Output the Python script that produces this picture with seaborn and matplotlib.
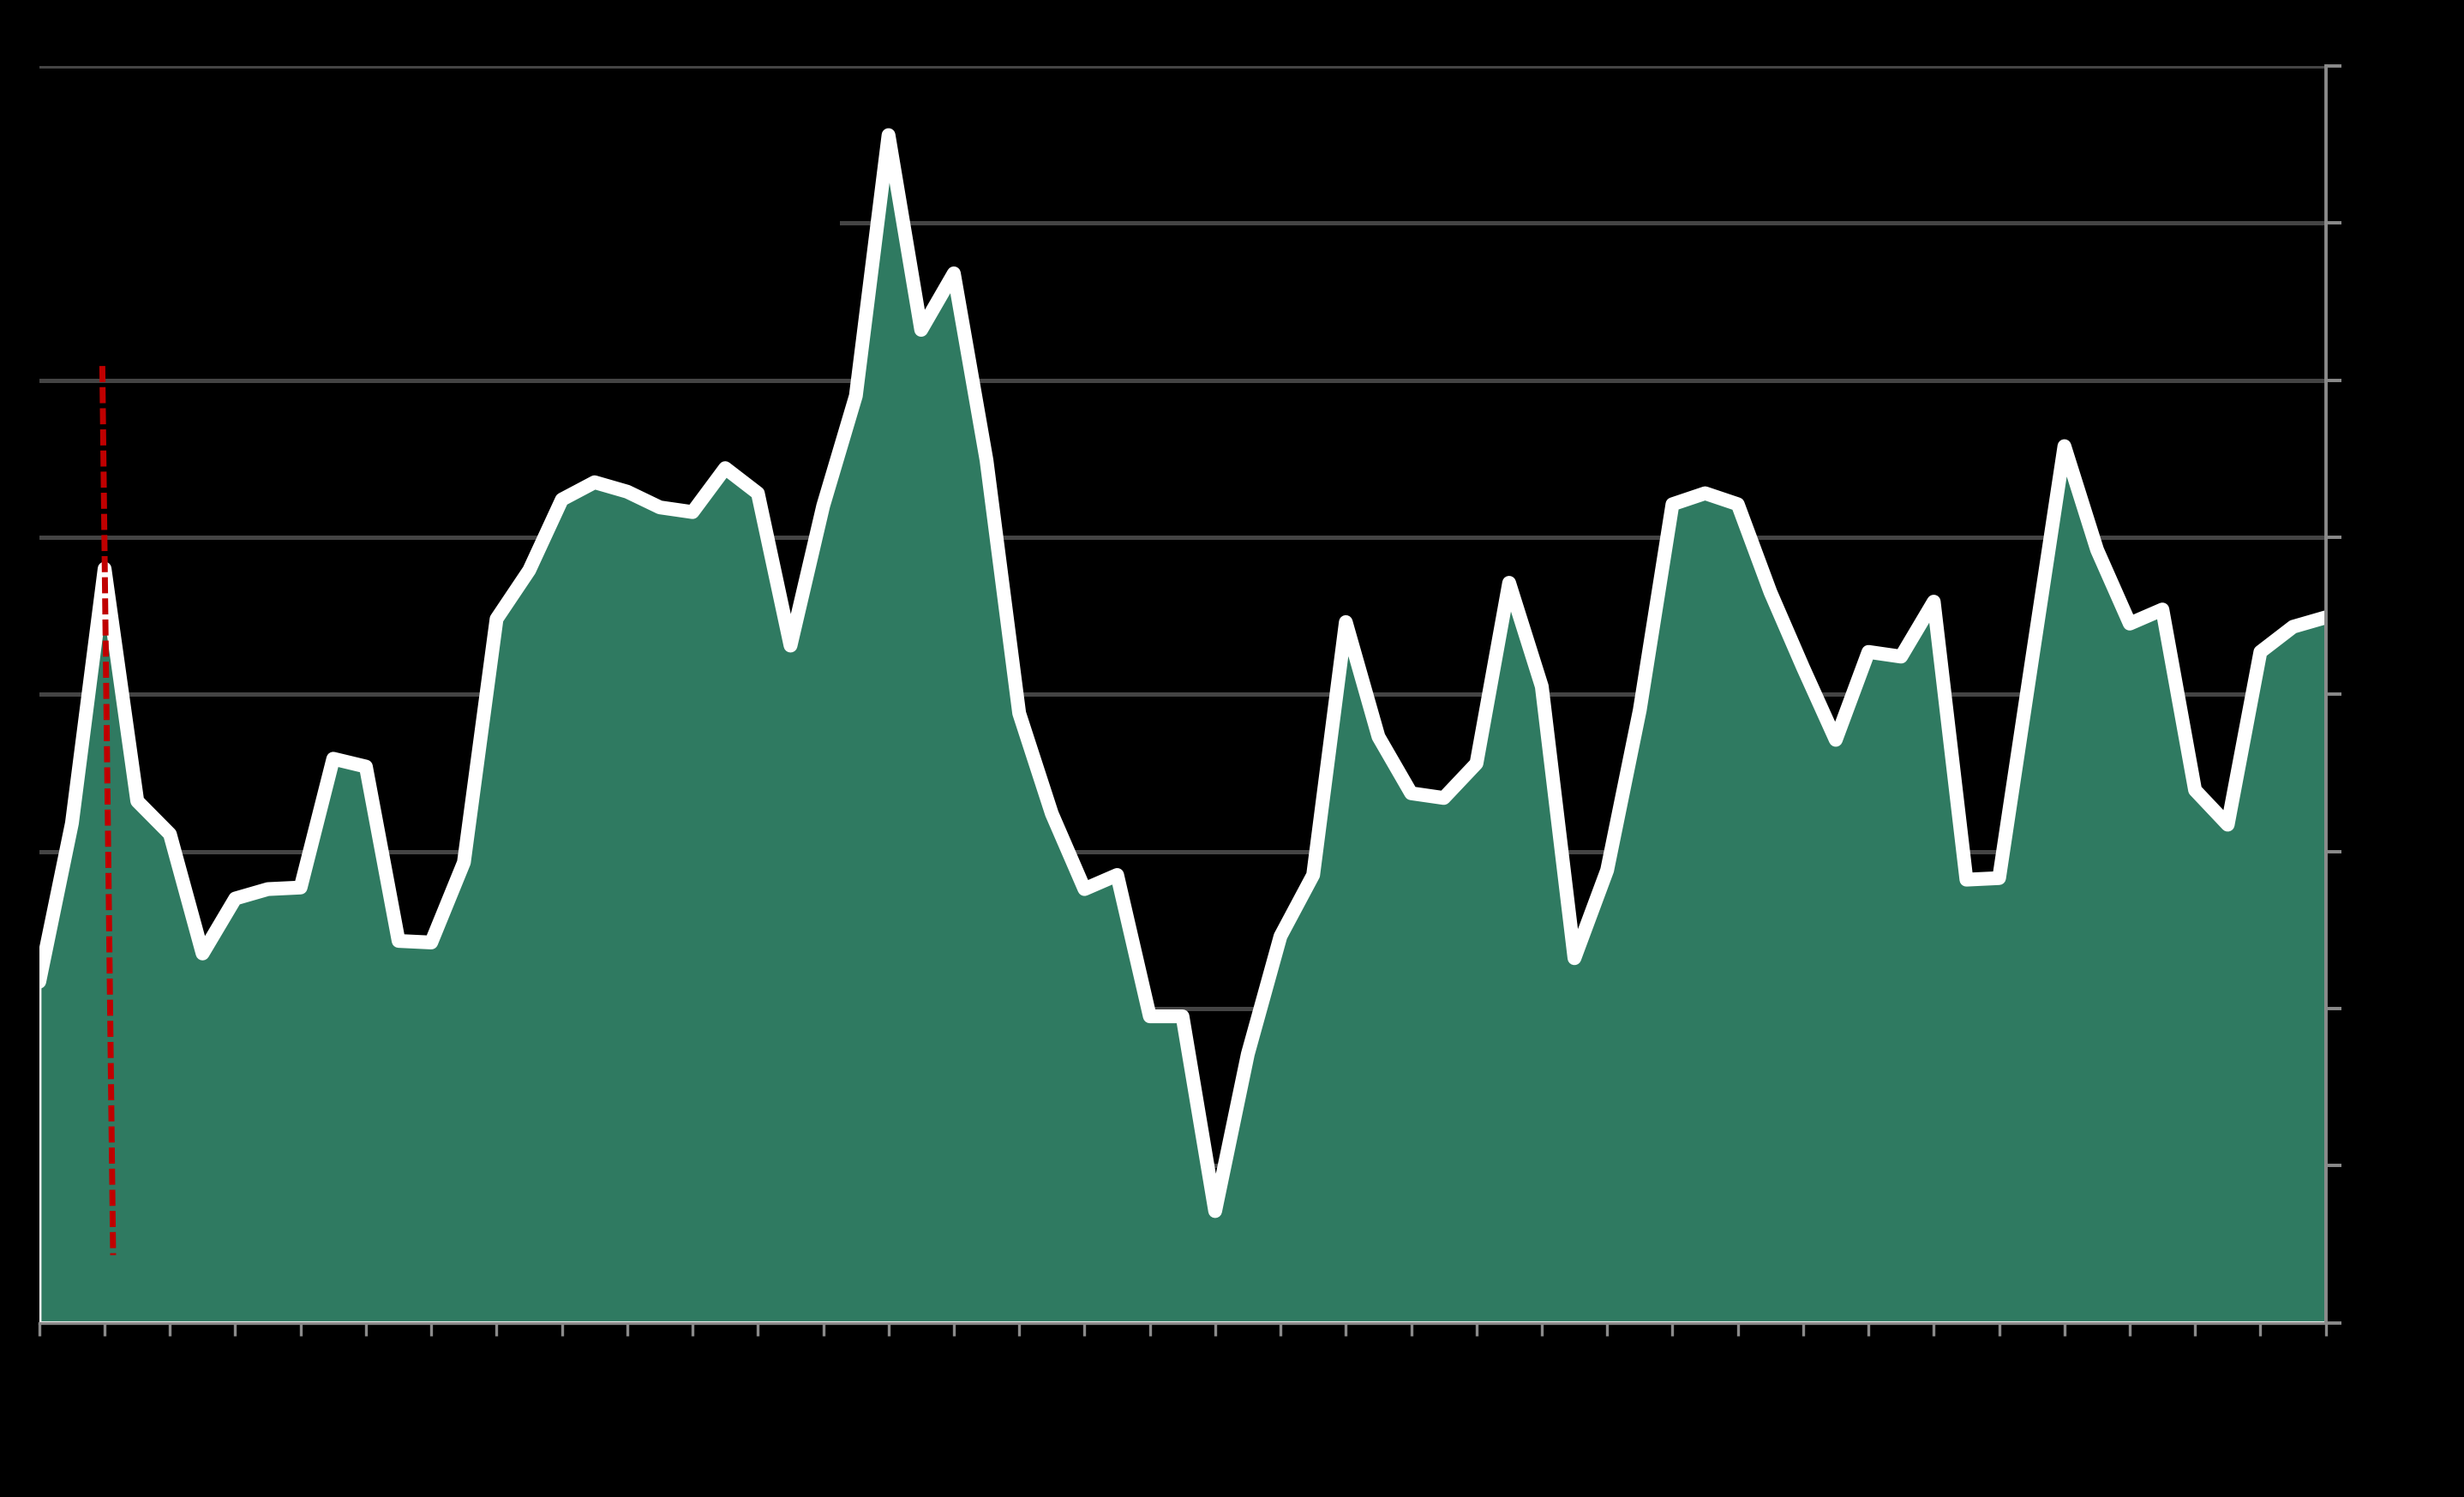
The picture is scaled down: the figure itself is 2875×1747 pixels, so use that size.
import matplotlib
matplotlib.use("Agg")
import matplotlib.pyplot as plt
from matplotlib.patches import Rectangle
import pandas as pd
import seaborn as sns

# values (one point per period)
periods = list(range(71))
values = [2.17, 3.18, 4.80, 3.32, 3.11, 2.35, 2.70, 2.76, 2.77, 3.59,
          3.54, 2.43, 2.42, 2.93, 4.48, 4.79, 5.24, 5.35, 5.29, 5.19,
          5.16, 5.44, 5.28, 4.31, 5.20, 5.90, 7.56, 6.32, 6.68, 5.49,
          3.88, 3.24, 2.76, 2.85, 1.95, 1.95, 0.71, 1.71, 2.46, 2.85,
          4.46, 3.73, 3.37, 3.34, 3.56, 4.71, 4.05, 2.32, 2.88, 3.90,
          5.21, 5.28, 5.21, 4.65, 4.17, 3.71, 4.27, 4.24, 4.59, 2.82,
          2.83, 4.21, 5.58, 4.92, 4.45, 4.54, 3.39, 3.17, 4.27, 4.43, 4.49]

# red dashed marker line
marker_x = [1.93, 2.26]
marker_y = [6.09, 0.43]

x_ticks = list(range(0, 71, 2))
y_ticks = list(range(0, 9))

df = pd.DataFrame({"period": periods, "value": values})

sns.set_style("dark", {"axes.facecolor": "black", "figure.facecolor": "black"})

GREEN = "#2f7a61"
GRID = "#444444"
AXIS = "#8a8a8a"

fig = plt.figure(figsize=(14.375, 8.735), dpi=200)
fig.patch.set_facecolor("black")
ax = fig.add_axes([0.01594, 0.11647, 0.92794, 0.83946])
ax.set_facecolor("black")

ax.fill_between(df["period"], df["value"], 0, color=GREEN,
                edgecolor="white", linewidth=1.5, zorder=1)
sns.lineplot(data=df, x="period", y="value", ax=ax, color="white",
             linewidth=5.8, zorder=2)
ax.plot(marker_x, marker_y, color="#c00000", linewidth=2.5,
        dashes=(2.7, 0.85), zorder=3)

# black box that hides part of the second grid line (top left)
ax.add_patch(Rectangle((0, 0.84), 0.35, 0.07, transform=ax.transAxes,
                       facecolor="black", edgecolor="none", zorder=0.9))

ax.set_xlim(0, 70)
ax.set_ylim(0, 8)
ax.set_xticks(x_ticks)
ax.set_yticks(y_ticks)
ax.yaxis.tick_right()
ax.set_axisbelow(True)
ax.grid(False)
ax.yaxis.grid(True, color=GRID, linewidth=1.8)

ax.set_xlabel("")
ax.set_ylabel("")
ax.tick_params(axis="x", colors=AXIS, labelcolor="black", length=5.4,
               width=1.2, direction="out", bottom=True)
ax.tick_params(axis="y", colors=AXIS, labelcolor="black", length=6.5,
               width=1.4, direction="out", right=True, left=False)

for side in ["left", "top"]:
    ax.spines[side].set_visible(False)
ax.spines["right"].set_visible(True)
ax.spines["right"].set_color(AXIS)
ax.spines["right"].set_linewidth(1.4)
ax.spines["bottom"].set_visible(True)
ax.spines["bottom"].set_color(AXIS)
ax.spines["bottom"].set_linewidth(1.2)

fig.savefig("out.png", dpi=200, facecolor="black")
